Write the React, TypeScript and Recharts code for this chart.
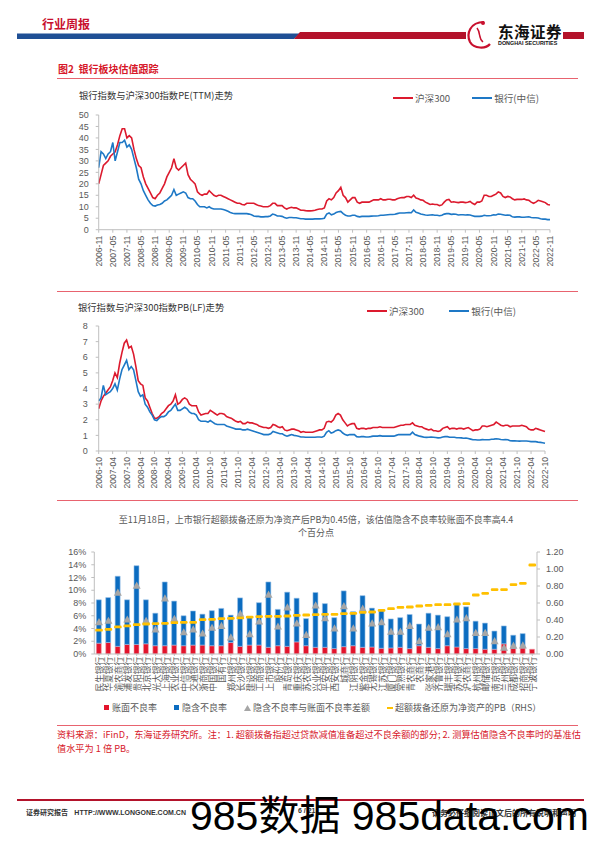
import React from 'react';
import { Bar, ComposedChart, Line, LineChart, XAxis, YAxis } from 'recharts';

const LATIN = '"Liberation Sans", "Noto Sans CJK SC", sans-serif';
const CJK = '"Noto Sans CJK SC", "Liberation Sans", sans-serif';
const RED = '#DC1A2E';
const BLUE = '#1E78C6';
const BAR_RED = '#E3142C';
const BAR_BLUE = '#0B6CC0';
const GRAY = '#595959';
const AXIS = '#BFBFBF';

// month labels for the two valuation charts
function monthLabels(year: number, month: number, count: number) {
  const out: string[] = [];
  for (let i = 0; i < count; i++) {
    const t = month - 1 + i;
    out.push(`${year + Math.floor(t / 12)}-${String((t % 12) + 1).padStart(2, '0')}`);
  }
  return out;
}

const peMonths = monthLabels(2006, 11, 193);
const pbMonths = monthLabels(2006, 10, 193);

// PE(TTM), 2006-11 .. 2022-11
const hs300Pe = [
  20, 24,
  28, 29, 30, 32, 33, 34, 37, 41, 44, 44, 40, 41,
  40, 35, 31, 28, 27, 23, 20, 18, 16, 14, 13.5, 15,
  16, 18, 20, 23, 25, 27, 31, 27, 26, 27, 28, 29,
  24, 22, 21, 20, 16.5, 15.5, 15, 15.5, 15.5, 17, 16, 15,
  14.5, 15, 15, 14.5, 14, 13.5, 13, 12.5, 12, 11.5, 11.5, 11,
  10.8, 11.5, 11.5, 11.5, 11.5, 11, 10.5, 10.3, 10, 10, 10, 10.5,
  11.5, 11.5, 10.5, 10.5, 10.5, 9.5, 9, 9.5, 9.8, 9.5, 9.5, 9,
  8.5, 8.5, 8.3, 8.2, 8.2, 8.3, 8.5, 8.8, 9, 9, 9.5, 12.5,
  13.5, 13, 14, 16, 17, 18.5, 15, 14, 12, 13, 14, 14,
  12, 11.5, 12, 12, 12, 12, 12.5, 13, 13, 13, 13.5, 13,
  13, 13.3, 13.3, 13, 13, 13.5, 13.8, 14, 14, 14.5, 14.5, 14,
  15, 13.8, 13.5, 13, 12.8, 12, 11.5, 11, 11.2, 11, 11, 10.5,
  10.8, 12, 13, 13.2, 12, 12.2, 12, 11.8, 12, 12, 11.8, 12,
  12.3, 11.5, 11, 12, 12, 12.5, 15, 15, 14.5, 14.5, 15, 15.5,
  16.5, 16, 14.5, 14, 14.5, 14.3, 13.5, 13, 13.2, 13.3, 13.2, 13.4,
  13, 12.8, 12, 11.5, 12, 12.8, 12.5, 12.2, 11.8, 11, 10.8,
];
const bankPe = [
  27, 34,
  33, 31, 33, 34, 38, 30, 34, 38, 38, 39, 36, 37,
  35, 31, 27, 22, 20, 17, 15, 13, 11.5, 10.5, 10.3, 10.8,
  11, 11.5, 12.5, 13, 14, 15, 17.5, 15, 15.5, 16, 16.5, 16,
  14, 13.5, 13.5, 12.5, 11, 10, 10, 10, 9.5, 10, 9.3, 9,
  9, 9, 9, 8.8, 8.5, 8, 7.5, 7.2, 7, 7, 7, 7,
  7, 7, 6.8, 6.5, 6, 5.8, 5.8, 5.6, 5.6, 5.7, 5.7, 6,
  6.8, 6.5, 6, 6, 5.8, 5.3, 5, 5.3, 5.3, 5.2, 5.2, 5,
  4.8, 4.8, 4.6, 4.6, 4.6, 4.6, 4.7, 4.7, 4.7, 4.8, 5, 6.8,
  7.3, 6.5, 6.8, 7.5, 7.8, 8, 7, 6.3, 6, 6, 6.3, 6.3,
  5.8, 5.6, 5.8, 5.8, 5.8, 5.8, 5.9, 6, 6, 6.1, 6.3, 6.3,
  6.4, 6.5, 6.6, 6.6, 6.7, 7, 7.3, 7.3, 7.3, 7.4, 7.5, 7.4,
  8.6, 7.6, 7.3, 6.8, 6.6, 6.4, 6.3, 6.4, 6.5, 6.3, 6.3, 6.1,
  6.3, 6.8, 7, 7, 6.7, 6.8, 6.7, 6.4, 6.5, 6.5, 6.4, 6.5,
  6.4, 6.1, 5.8, 5.8, 5.8, 5.9, 6.3, 6.1, 6.1, 6.2, 6.5, 6.4,
  6.8, 6.7, 6.5, 6.3, 6.4, 6.3, 5.6, 5.5, 5.6, 5.6, 5.4, 5.4,
  5.5, 5.6, 5.3, 5.2, 5.2, 5.1, 4.8, 4.6, 4.6, 4.4, 4.4,
];

// PB(LF), 2006-10 .. 2022-10
const hs300Pb = [
  2.7, 3.2, 3.5,
  3.7, 3.9, 4.1, 4.5, 5.0, 4.7, 5.6, 6.3, 6.9, 7.1, 6.6, 6.7,
  6.2, 5.4, 4.5, 4.3, 4.2, 3.4, 3.2, 2.8, 2.4, 2.1, 2.1, 2.2,
  2.4, 2.5, 2.7, 2.9, 3.0, 3.2, 3.6, 3.0, 3.1, 3.3, 3.4, 3.3,
  3.0, 2.9, 2.9, 2.9, 2.5, 2.3, 2.35, 2.4, 2.4, 2.6, 2.5, 2.4,
  2.3, 2.4, 2.4, 2.35, 2.2, 2.15, 2.1, 2.0, 1.9, 1.85, 1.9, 1.75,
  1.75, 1.85, 1.8, 1.8, 1.75, 1.7, 1.6, 1.55, 1.5, 1.5, 1.45, 1.5,
  1.7, 1.65, 1.55, 1.5, 1.55, 1.35, 1.3, 1.35, 1.4, 1.4, 1.35, 1.3,
  1.2, 1.25, 1.2, 1.2, 1.2, 1.2, 1.25, 1.3, 1.35, 1.35, 1.45, 1.85,
  1.9, 1.85, 2.0, 2.3, 2.4, 2.3, 2.0, 1.8, 1.6, 1.7, 1.75, 1.75,
  1.45, 1.4, 1.45, 1.45, 1.4, 1.45, 1.45, 1.5, 1.5, 1.5, 1.55, 1.5,
  1.5, 1.5, 1.5, 1.5, 1.5, 1.55, 1.6, 1.65, 1.65, 1.7, 1.7, 1.7,
  1.8, 1.65, 1.6, 1.55, 1.55, 1.45, 1.4, 1.35, 1.4, 1.3, 1.3, 1.25,
  1.3, 1.45, 1.5, 1.55, 1.4, 1.45, 1.45, 1.4, 1.45, 1.45, 1.4, 1.45,
  1.5, 1.4, 1.3, 1.35, 1.35, 1.4, 1.6, 1.6, 1.55, 1.6, 1.65, 1.7,
  1.85, 1.75, 1.65, 1.6, 1.65, 1.65, 1.55, 1.6, 1.6, 1.6, 1.6, 1.65,
  1.6, 1.55, 1.4, 1.35, 1.35, 1.45, 1.4, 1.35, 1.3, 1.25,
];
const bankPb = [
  3.2, 3.4, 4.2,
  3.6, 3.7, 3.8, 4.0, 4.3, 3.9, 4.6, 5.2, 5.5, 5.8, 5.2, 5.4,
  5.2, 4.5, 3.8, 3.5, 3.6, 3.0, 2.8, 2.5, 2.3, 2.0, 1.95, 2.1,
  2.2, 2.2, 2.3, 2.5, 2.6, 2.8, 3.0, 2.6, 2.6, 2.7, 2.8, 2.7,
  2.5, 2.4, 2.4, 2.3, 2.0, 1.9, 1.9, 1.9, 1.85, 1.95, 1.85, 1.75,
  1.7, 1.7, 1.7, 1.7, 1.6, 1.55, 1.5, 1.45, 1.4, 1.4, 1.4, 1.35,
  1.35, 1.4, 1.35, 1.3, 1.25, 1.2, 1.15, 1.1, 1.05, 1.05, 1.05, 1.1,
  1.25, 1.2, 1.15, 1.1, 1.1, 1.0, 0.95, 1.0, 1.05, 1.0, 0.98, 0.95,
  0.9, 0.9, 0.88, 0.88, 0.88, 0.88, 0.88, 0.9, 0.9, 0.88, 0.95, 1.2,
  1.3, 1.15, 1.2, 1.3, 1.35, 1.3, 1.15, 1.05, 1.0, 1.05, 1.05, 1.05,
  0.92, 0.9, 0.92, 0.92, 0.9, 0.9, 0.92, 0.95, 0.95, 0.95, 0.98, 0.95,
  0.95, 0.95, 0.95, 0.95, 0.95, 1.0, 1.05, 1.05, 1.05, 1.05, 1.05, 1.05,
  1.2, 1.05, 1.0, 0.95, 0.92, 0.88, 0.87, 0.88, 0.9, 0.88, 0.86, 0.84,
  0.85, 0.9, 0.92, 0.92, 0.88, 0.88, 0.88, 0.85, 0.85, 0.84, 0.82, 0.83,
  0.8, 0.76, 0.72, 0.72, 0.7, 0.7, 0.73, 0.72, 0.72, 0.72, 0.75, 0.76,
  0.78, 0.77, 0.74, 0.72, 0.74, 0.72, 0.66, 0.65, 0.65, 0.64, 0.63, 0.64,
  0.64, 0.64, 0.62, 0.6, 0.6, 0.6, 0.57, 0.55, 0.53, 0.5,
];

// implied NPL chart
const banks = [
  '民生银行', '华夏银行', '渝农商行', '浦发银行', '贵阳银行', '北京银行', '光大银行', '上海银行',
  '农业银行', '中信银行', '交通银行', '浙商银行', '中国银行', '国有行', '郑州银行', '长沙银行',
  '建设银行', '工商银行', '上市银行', '股份行', '青岛银行', '重庆银行', '苏农银行', '兴业银行',
  '平安银行', '西安银行', '城商行', '江阴银行', '紫金银行', '无锡银行', '江苏银行', '厦门银行',
  '常熟银行', '青农商行', '农商行', '张家港行', '齐鲁银行', '瑞丰银行', '苏州银行', '沪农商行',
  '杭州银行', '邮储银行', '南京银行', '兰州银行', '成都银行', '招商银行', '宁波银行',
];
const bookNpl = [
  1.7, 1.8, 1.2, 1.5, 1.5, 1.6, 1.3, 1.3, 1.4, 1.3, 1.4, 1.4, 1.3, 1.3, 1.8, 1.2,
  1.4, 1.4, 1.05, 1.3, 1.2, 1.9, 1.3, 1.05, 1.05, 0.85, 1.15, 1.3, 1.05, 1.1, 0.9, 0.95,
  1.05, 0.85, 1.3, 1.05, 0.85, 1.3, 1.1, 0.85, 0.85, 0.75, 0.75, 1.6, 0.9, 0.95, 0.75,
];
const impliedNpl = [
  6.8, 7.05, 11.0, 7.0, 12.35, 6.9, 5.1, 10.0, 6.9, 4.7, 5.35, 4.85, 5.5, 5.85, 4.3, 7.6,
  4.45, 6.65, 10.25, 5.7, 8.5, 6.85, 4.25, 8.6, 6.85, 4.85, 8.75, 5.35, 8.1, 6.1, 6.0, 4.55,
  4.65, 5.35, 3.4, 5.35, 5.25, 4.55, 6.7, 6.55, 4.3, 4.1, 2.85, 2.8, 2.05, 2.25, 0,
];
const nplGap = [
  5.0, 5.2, 9.6, 5.4, 10.7, 5.2, 3.85, 8.7, 5.5, 3.4, 3.85, 3.2, 4.1, 4.4, 2.6, 6.3,
  3.1, 5.1, 9.3, 4.3, 7.3, 4.8, 3.0, 7.6, 5.6, 4.0, 7.5, 4.0, 7.1, 4.8, 5.0, 3.5,
  3.5, 4.4, 2.0, 4.1, 4.2, 3.1, 5.4, 5.6, 3.3, 3.3, 2.0, 1.0, 1.3, 1.35, null,
];
const adjustedPb = [
  0.28, 0.29, 0.318, 0.33, 0.345, 0.353, 0.357, 0.36, 0.368, 0.372, 0.372, 0.404, 0.408, 0.416, 0.42, 0.424,
  0.435, 0.44, 0.443, 0.443, 0.447, 0.455, 0.459, 0.463, 0.467, 0.467, 0.475, 0.478, 0.49, 0.494, 0.514, 0.533,
  0.549, 0.553, 0.565, 0.573, 0.58, 0.58, 0.588, 0.592, 0.694, 0.714, 0.757, 0.757, 0.816, 0.832, 1.047,
];

const peTicks = [0, 5, 10, 15, 20, 25, 30, 35, 40, 45, 50];
const pbTicks = [0, 1, 2, 3, 4, 5, 6, 7, 8];
const nplTicks = [0, 2, 4, 6, 8, 10, 12, 14, 16];
const rhsTicks = [0, 0.2, 0.4, 0.6, 0.8, 1.0, 1.2];

const peRows = peMonths.map((m, i) => ({ m, hs: hs300Pe[i], bank: bankPe[i] }));
const pbRows = pbMonths.map((m, i) => ({ m, hs: hs300Pb[i], bank: bankPb[i] }));
const nplRows = banks.map((name, i) => ({
  name,
  book: bookNpl[i],
  implied: impliedNpl[i],
  gap: nplGap[i],
  pb: adjustedPb[i],
}));

const DateTick = (props: any) => {
  const { x, y, payload } = props;
  return (
    <text
      x={x}
      y={y}
      transform={`rotate(-90 ${x} ${y})`}
      textAnchor="end"
      dominantBaseline="central"
      fontSize={8.6}
      fill={GRAY}
      fontFamily={LATIN}
    >
      {payload.value}
    </text>
  );
};

const BankTick = (props: any) => {
  const { x, y, payload } = props;
  return (
    <text
      x={x}
      y={y}
      transform={`rotate(-90 ${x} ${y})`}
      textAnchor="end"
      dominantBaseline="central"
      fontSize={8.6}
      fill={GRAY}
      fontFamily={CJK}
    >
      {payload.value}
    </text>
  );
};

const Triangle = (props: any) => {
  const { cx, cy, value, index } = props;
  if (value == null || cx == null || cy == null) return <g key={index} />;
  return <path key={index} d={`M${cx},${cy - 4.2} L${cx + 4},${cy + 3} L${cx - 4},${cy + 3} Z`} fill="#A6A6A6" />;
};

const Dash = (props: any) => {
  const { cx, cy, index } = props;
  if (cx == null || cy == null) return <g key={index} />;
  return <rect key={index} x={cx - 3.8} y={cy - 1.4} width={7.6} height={2.8} rx={1.2} fill="#FFC000" />;
};

const tickStyle = { fontSize: 9, fill: GRAY, fontFamily: LATIN };

function LineLegend({ left, top, gap }: { left: number; top: number; gap: number }) {
  const item = (color: string, label: string) => (
    <div style={{ display: 'flex', alignItems: 'center', marginRight: gap }}>
      <div style={{ width: 20, height: 2.5, background: color, marginRight: 2 }} />
      <span>{label}</span>
    </div>
  );
  return (
    <div
      style={{
        position: 'absolute',
        left,
        top,
        display: 'flex',
        fontSize: 9.6,
        color: GRAY,
        fontFamily: CJK,
        whiteSpace: 'nowrap',
      }}
    >
      {item(RED, '沪深300')}
      {item(BLUE, '银行(中信)')}
    </div>
  );
}

const redRule = (top: number) => (
  <div style={{ position: 'absolute', left: 57, top, width: 521, height: 1, background: '#E8636F' }} />
);

export default function App() {
  return (
    <div
      style={{
        position: 'absolute',
        left: 0,
        top: 0,
        width: 596,
        height: 842,
        background: '#fff',
        overflow: 'hidden',
        fontFamily: CJK,
      }}
    >
      {/* page header */}
      <svg width={596} height={60} style={{ position: 'absolute', left: 0, top: 0 }}>
        <polygon points="17,33.5 300,33.5 294,39 17,39" fill="#1F4F95" />
        <polygon points="300,32 466,32 466,39 294,39" fill="#B3132B" />
        <path d="M484,22 C470,22 466,34 470,42 C474,49 486,49 490,44" stroke="#C8102E" strokeWidth={2.2} fill="none" />
        <path d="M477,28 C481,33 478,38 483,42" stroke="#C8102E" strokeWidth={1.5} fill="none" />
        <circle cx={483} cy={23} r={2} fill="#C8102E" />
        <text x={498} y={37.5} fontSize={15.5} fontWeight={700} fill="#111" fontFamily={CJK} letterSpacing={0.5}>
          东海证券
        </text>
        <text x={498} y={45} fontSize={5.4} fontWeight={700} fill="#111" fontFamily={LATIN}>
          DONGHAI SECURITIES
        </text>
        <rect x={563} y={32} width={21} height={7} fill="#B3132B" />
      </svg>
      <div style={{ position: 'absolute', left: 42, top: 15, fontSize: 12, fontWeight: 700, color: '#C8102E' }}>
        行业周报
      </div>

      <div style={{ position: 'absolute', left: 58, top: 61, fontSize: 10, fontWeight: 700, color: '#D7182A', whiteSpace: 'nowrap' }}>
        图2&nbsp;&nbsp;银行板块估值跟踪
      </div>
      {redRule(78)}

      {/* PE chart */}
      <div style={{ position: 'absolute', left: 79, top: 88, fontSize: 9.3, color: '#333', whiteSpace: 'nowrap' }}>
        银行指数与沪深300指数PE(TTM)走势
      </div>
      <LineLegend left={393} top={91} gap={22} />
      <div style={{ position: 'absolute', left: 0, top: 100 }}>
        <LineChart width={560} height={171.7} data={peRows} margin={{ top: 15, right: 10, bottom: 0, left: 68.7 }}>
          <XAxis dataKey="m" interval={5} tick={DateTick} tickSize={3} tickMargin={3} height={42} stroke={AXIS} />
          <YAxis
            domain={[0, 50]}
            ticks={peTicks}
            interval={0}
            width={30}
            tick={tickStyle}
            tickSize={3}
            tickMargin={7}
            stroke={AXIS}
          />
          <Line dataKey="hs" stroke={RED} strokeWidth={1.6} dot={false} isAnimationActive={false} />
          <Line dataKey="bank" stroke={BLUE} strokeWidth={1.6} dot={false} isAnimationActive={false} />
        </LineChart>
      </div>

      {/* PB chart */}
      {redRule(291)}
      <div style={{ position: 'absolute', left: 78, top: 300, fontSize: 9.3, color: '#333', whiteSpace: 'nowrap' }}>
        银行指数与沪深300指数PB(LF)走势
      </div>
      <LineLegend left={367} top={304} gap={25} />
      <div style={{ position: 'absolute', left: 0, top: 310 }}>
        <LineChart width={555} height={183} data={pbRows} margin={{ top: 16, right: 10, bottom: 0, left: 68.7 }}>
          <XAxis dataKey="m" interval={5} tick={DateTick} tickSize={3} tickMargin={3} height={42} stroke={AXIS} />
          <YAxis
            domain={[0, 8]}
            ticks={pbTicks}
            interval={0}
            width={30}
            tick={tickStyle}
            tickSize={3}
            tickMargin={8}
            stroke={AXIS}
          />
          <Line dataKey="hs" stroke={RED} strokeWidth={1.6} dot={false} isAnimationActive={false} />
          <Line dataKey="bank" stroke={BLUE} strokeWidth={1.6} dot={false} isAnimationActive={false} />
        </LineChart>
      </div>

      {/* implied NPL chart */}
      {redRule(500)}
      <div
        style={{
          position: 'absolute',
          left: 96,
          width: 440,
          top: 513,
          fontSize: 9,
          lineHeight: '13px',
          color: GRAY,
          textAlign: 'center',
          whiteSpace: 'nowrap',
        }}
      >
        至11月18日，上市银行超额拨备还原为净资产后PB为0.45倍，该估值隐含不良率较账面不良率高4.4
        <br />
        个百分点
      </div>
      <div style={{ position: 'absolute', left: 0, top: 540 }}>
        <ComposedChart width={596} height={159} data={nplRows} margin={{ top: 12, right: 24, bottom: 0, left: 54.3 }}>
          <XAxis dataKey="name" interval={0} tick={BankTick} tickSize={2} tickMargin={1} height={45} stroke={AXIS} />
          <YAxis
            yAxisId="l"
            domain={[0, 16]}
            ticks={nplTicks}
            interval={0}
            width={40}
            tick={tickStyle}
            tickFormatter={(v: number) => `${v}%`}
            tickSize={3}
            tickMargin={5}
            stroke={AXIS}
          />
          <YAxis
            yAxisId="r"
            orientation="right"
            domain={[0, 1.2]}
            ticks={rhsTicks}
            interval={0}
            width={35}
            tick={tickStyle}
            tickFormatter={(v: number) => v.toFixed(2)}
            tickSize={3}
            tickMargin={6}
            stroke={AXIS}
          />
          <Bar yAxisId="l" dataKey="book" stackId="npl" fill={BAR_RED} stroke="#F4A3AE" strokeWidth={0.6} barSize={5} isAnimationActive={false} />
          <Bar yAxisId="l" dataKey="implied" stackId="npl" fill={BAR_BLUE} stroke="#9CC3E8" strokeWidth={0.6} barSize={5} isAnimationActive={false} />
          <Line yAxisId="l" dataKey="gap" stroke="none" dot={Triangle} activeDot={false} isAnimationActive={false} />
          <Line yAxisId="r" dataKey="pb" stroke="none" dot={Dash} activeDot={false} isAnimationActive={false} />
        </ComposedChart>
      </div>

      {/* legend */}
      <div
        style={{
          position: 'absolute',
          left: 104,
          top: 701,
          display: 'flex',
          alignItems: 'center',
          fontSize: 9,
          color: GRAY,
          whiteSpace: 'nowrap',
        }}
      >
        <div style={{ width: 5, height: 5, background: BAR_RED, marginRight: 3 }} />
        <span style={{ marginRight: 17 }}>账面不良率</span>
        <div style={{ width: 5, height: 5, background: BAR_BLUE, marginRight: 3 }} />
        <span style={{ marginRight: 17 }}>隐含不良率</span>
        <svg width={7} height={6} style={{ marginRight: 2 }}>
          <path d="M3.5,0 L7,6 L0,6 Z" fill="#A6A6A6" />
        </svg>
        <span style={{ marginRight: 17 }}>隐含不良率与账面不良率差额</span>
        <div style={{ width: 6, height: 2, background: '#FFC000', marginRight: 2 }} />
        <span>超额拨备还原为净资产的PB（RHS）</span>
      </div>

      {/* source note */}
      {redRule(725)}
      <div style={{ position: 'absolute', left: 57, top: 727, fontSize: 9.2, lineHeight: '14px', color: '#D7182A', whiteSpace: 'nowrap' }}>
        资料来源：iFinD，东海证券研究所。注：1. 超额拨备指超过贷款减值准备超过不良余额的部分; 2. 测算估值隐含不良率时的基准估
        <br />
        值水平为 1 倍 PB。
      </div>

      {/* footer */}
      <div style={{ position: 'absolute', left: 17, top: 799, width: 567, height: 2, background: '#B3132B' }} />
      <div style={{ position: 'absolute', left: 26, top: 807, fontSize: 7, fontWeight: 700, color: '#333', whiteSpace: 'nowrap' }}>
        证券研究报告&nbsp;&nbsp;&nbsp;&nbsp;
        <span style={{ fontFamily: LATIN }}>HTTP://WWW.LONGONE.COM.CN</span>
      </div>
      <div style={{ position: 'absolute', left: 298, top: 807, fontSize: 7, fontWeight: 700, color: '#333', fontFamily: LATIN }}>
        6 / 21
      </div>
      <div style={{ position: 'absolute', left: 432, top: 807, fontSize: 8, fontWeight: 700, color: '#333', whiteSpace: 'nowrap' }}>
        请务必仔细阅读正文后的所有说明和声明
      </div>
      <div
        style={{
          position: 'absolute',
          left: 190,
          top: 788,
          fontSize: 41,
          lineHeight: '48px',
          color: '#000',
          whiteSpace: 'nowrap',
          fontFamily: LATIN,
        }}
      >
        985<span style={{ fontFamily: CJK }}>数据</span> 985data.com
      </div>
    </div>
  );
}
